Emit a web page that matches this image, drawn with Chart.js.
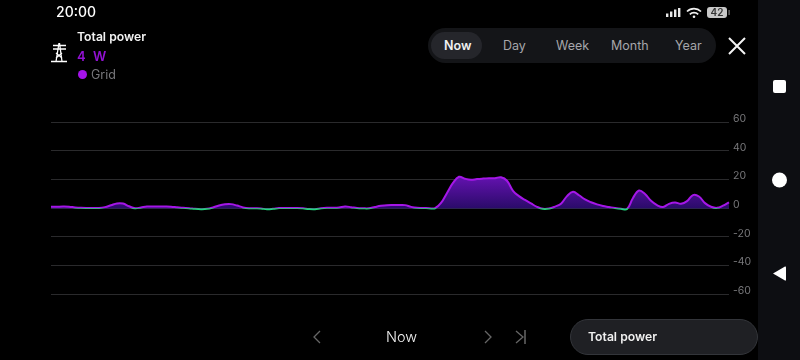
<!DOCTYPE html>
<html><head><meta charset="utf-8">
<script src="https://cdn.jsdelivr.net/npm/chart.js@4"></script>
<style>
html,body{margin:0;padding:0;background:#000;width:800px;height:360px;overflow:hidden;font-family:Inter,Roboto,sans-serif}
#c{position:absolute;left:0;top:0}
.t{position:absolute;white-space:nowrap;line-height:1}
svg{position:absolute;overflow:visible}
#side{position:absolute;left:758px;top:0;width:42px;height:360px;background:#0d0e12}
#pill{position:absolute;left:428px;top:28px;width:288px;height:35px;border-radius:18px;background:#141518}
#act{position:absolute;left:431px;top:32px;width:51px;height:27px;border-radius:14px;background:#25262b}
#tp{position:absolute;left:570px;top:319px;width:186px;height:34px;border-radius:18px;background:#1f2024;border:1px solid #33353a}
</style></head><body>
<canvas id="c" width="800" height="360" style="width:800px;height:360px"></canvas>
<div id="side"></div><div id="pill"></div><div id="act"></div><div id="tp"></div>
<div class="t" style="left:56px;top:5px;font-size:14px;font-weight:500;color:#fff">20:00</div>
<div class="t" style="left:77px;top:31px;font-size:12.2px;font-weight:600;color:#f2f2f2">Total power</div>
<div class="t" style="left:77px;top:50px;font-size:13px;font-weight:600;color:#9212d4;word-spacing:4px">4 W</div>
<div class="t" style="left:91px;top:69px;font-size:12.5px;color:#77777b">Grid</div>
<div class="t" style="left:444px;top:40px;font-size:12.5px;font-weight:600;color:#f0f0f0">Now</div>
<div class="t" style="left:503px;top:40px;font-size:12.5px;color:#a6a6aa">Day</div>
<div class="t" style="left:556px;top:40px;font-size:12.5px;color:#a6a6aa">Week</div>
<div class="t" style="left:611px;top:40px;font-size:12.5px;color:#a6a6aa">Month</div>
<div class="t" style="left:675px;top:40px;font-size:12.5px;color:#a6a6aa">Year</div>
<div class="t" style="left:386px;top:330px;font-size:14.5px;font-weight:300;color:#f2f2f2">Now</div>
<div class="t" style="left:588px;top:331px;font-size:12.2px;font-weight:600;color:#f0f0f0">Total power</div>
<div class="t" style="left:707px;top:7px;box-sizing:border-box;width:20px;height:11px;font-size:10px;line-height:11px;font-weight:600;text-align:center;color:#333;background:#c8c8c8;border-radius:3px">42</div>
<svg width="800" height="360" style="left:0;top:0">
 <g stroke="#fff" stroke-width="1.3" fill="none">
  <path d="M51 61.5H67M53 45.5H66M53 49H66M59 43L56 61.5M59.5 43L62 61.5M56 53L62 58M62 53L56 58"/>
 </g>
 <circle cx="82.5" cy="74.5" r="4.5" fill="#a513ea"/>
 <g fill="#e8e8e8"><rect x="666" y="13.5" width="2.4" height="3.5"/><rect x="670" y="11.5" width="2.4" height="5.5"/><rect x="674" y="9.5" width="2.4" height="7.5"/><rect x="678" y="8" width="2.4" height="9"/></g>
 <path d="M687 11.5a10 10 0 0 1 14 0M689.8 14.3a6 6 0 0 1 8.4 0" stroke="#f0f0f0" stroke-width="1.7" fill="none"/><circle cx="694" cy="16.8" r="1.3" fill="#f0f0f0"/>
 <rect x="728.5" y="10" width="1.2" height="5" fill="#777"/>
 <path d="M729 38L745 54M745 38L729 54" stroke="#f4f4f4" stroke-width="2" fill="none"/>
 <path d="M320 331L314 337L320 343M485 331L491 337L485 343" stroke="#666" stroke-width="1.3" fill="none"/>
 <path d="M516 331L523 337L516 343" stroke="#666" stroke-width="1.3" fill="none"/><path d="M525 330V344" stroke="#777" stroke-width="1.3"/>
 <rect x="773" y="80" width="13" height="13" rx="2" fill="#fff"/>
 <circle cx="779.5" cy="180" r="7.5" fill="#fff"/>
 <path d="M773 273.5L785 266.5Q786 266 786 267.5V279.5Q786 281 785 280.5Z" fill="#fff"/>
</svg>
<script>
const gridValues = [0.8,0.9,1,0.9,0.4,0.1,0,0,0,0.6,1.9,3.2,3.1,1.2,-0.2,0.4,1,1,1,1,0.9,0.5,0.1,-0.1,-0.6,-0.8,-0.6,0.4,1.8,2.6,2.7,1.7,0.4,-0.2,-0.2,-0.3,-0.9,-0.6,0,0,0,0,-0.2,-0.7,-0.8,-0.2,0.1,0.1,0.3,1,0.6,0,-0.2,-0.2,0.7,1.5,2,2.1,2.1,2,0.8,0.1,0,-0.1,-0.2,3.5,10.5,17.5,21.8,20.4,19.7,20.2,20.5,20.7,20.8,21.4,19,12,8.3,5.6,3.2,0.8,-0.6,-0.4,1,3,8.3,11.3,8.9,6,4,2.5,1.4,0.7,0,-0.5,-0.7,7,12.2,9.8,5,2,0.7,2.9,3.8,3,4.8,9,8,3.4,0.9,0.1,1.6,4];
const timeLabels = gridValues.map((_, i) => String(i));
const yTicks = [60,40,20,0,-20,-40,-60];
const seriesName = "Grid";

function strokeGrad(ctx){
  const ca = ctx.chart.chartArea; if(!ca) return '#a516e8';
  const g = ctx.chart.ctx.createLinearGradient(0, ca.top, 0, ca.bottom);
  g.addColorStop(0,'#a516e8'); g.addColorStop(0.4985,'#a516e8');
  g.addColorStop(0.5,'#5d8396'); g.addColorStop(0.502,'#5d8396');
  g.addColorStop(0.504,'#1fd67c'); g.addColorStop(1,'#1fd67c');
  return g;
}
function fillGrad(ctx){
  const ca = ctx.chart.chartArea; if(!ca) return '#3a0f80';
  const y = ctx.chart.scales.y;
  const g = ctx.chart.ctx.createLinearGradient(0, y.getPixelForValue(22), 0, y.getPixelForValue(0));
  g.addColorStop(0,'#6412b0'); g.addColorStop(1,'#2b0b6a');
  return g;
}
new Chart(document.getElementById('c'),{
  type:'line',
  data:{labels:timeLabels,datasets:[{label:seriesName,data:gridValues,borderColor:strokeGrad,backgroundColor:fillGrad,borderWidth:2,pointRadius:0,fill:'origin',tension:0.4}]},
  options:{
    responsive:false,animation:false,
    layout:{padding:{left:51,top:122,bottom:66,right:0}},
    plugins:{legend:{display:false},tooltip:{enabled:false}},
    scales:{
      x:{display:false,offset:false},
      y:{position:'right',min:-60,max:60,
        afterBuildTicks:s=>{s.ticks=yTicks.map(v=>({value:v}));},
        afterFit:s=>{s.width=71;},
        border:{display:false},
        grid:{drawTicks:false,lineWidth:1,color:c=>c.tick&&c.tick.value===0?'#2c2450':'#2a2a2c'},
        ticks:{padding:4,labelOffset:-3,color:'#77777a',font:{family:'Inter',size:10.5},autoSkip:false}
      }
    }
  }
});
</script>
</body></html>
